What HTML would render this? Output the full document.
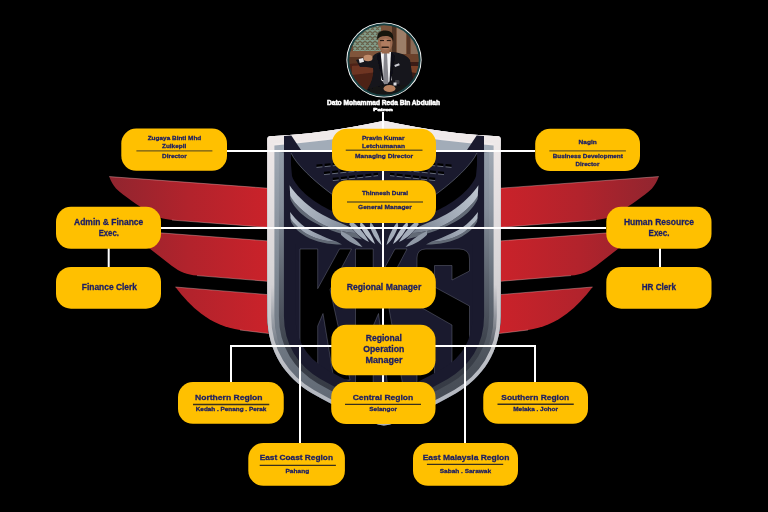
<!DOCTYPE html>
<html><head><meta charset="utf-8"><title>Organisation Chart</title>
<style>
html,body{margin:0;padding:0;background:#000;}
body{width:768px;height:512px;overflow:hidden;position:relative;font-family:"Liberation Sans",sans-serif;}
svg{position:absolute;left:0;top:0;}
text{font-family:"Liberation Sans",sans-serif;font-weight:bold;}
</style></head><body>
<svg width="768" height="512" viewBox="0 0 768 512">
<defs>
<linearGradient id="wl" x1="109" y1="0" x2="268" y2="0" gradientUnits="userSpaceOnUse">
<stop offset="0" stop-color="#90252f"/><stop offset="0.5" stop-color="#b2232c"/><stop offset="1" stop-color="#ca222a"/></linearGradient>
<linearGradient id="gb" x1="0" y1="130" x2="0" y2="430" gradientUnits="userSpaceOnUse">
<stop offset="0" stop-color="#a3acb7"/><stop offset="0.5" stop-color="#7e8792"/><stop offset="1" stop-color="#5a626d"/></linearGradient>
<linearGradient id="rim" x1="0" y1="130" x2="0" y2="430" gradientUnits="userSpaceOnUse">
<stop offset="0" stop-color="#f0eaea"/><stop offset="0.45" stop-color="#d9d6d8"/><stop offset="1" stop-color="#a9afb8"/></linearGradient>
<clipPath id="pc"><circle cx="384" cy="60" r="34.8"/></clipPath>
</defs>

<g id="wingL" fill="url(#wl)">
<path d="M109.2,176.6 L269,188.3 L269,227.4 L172,220.1 C163,218.8 157,217.5 150,213 C138,205.5 124,196 116,188.5 C113,185 111,181.5 109.2,176.6 Z"/>
<path d="M126.2,230.3 L269,241 L269,281.4 L197,275.6 C187,274.8 180,272 172,266 L126.2,230.3 Z"/>
<path d="M175.4,287 L269,294.7 L269.5,333.6 L240,330 C226,328 212,322 201,313.5 C192,306.5 183,297.5 175.4,287 Z"/>
<g fill="none" stroke="#f0c4c4" stroke-width="0.7" opacity="0.55">
<path d="M109.2,176.6 L269,188.3 M269,227.4 L172,220.1"/>
<path d="M126.2,230.3 L269,241 M269,281.4 L197,275.6"/>
<path d="M175.4,287 L269,294.7 M269.5,333.6 L240,330"/>
</g>
</g>
<use href="#wingL" transform="translate(768,0) scale(-1,1)"/>
<defs>
<clipPath id="sc"><path d="M384,120.8 Q320,134.5 270,136.3 Q267.4,136.4 267.4,139 L267.4,316 C267.4,352 286,378 312,393.3 C336,407 360,417.5 374,423.3 Q384,427.6 394,423.3 C408,417.5 432,407 456,393.3 C482,378 500.6,352 500.6,316 L500.6,139 Q500.6,136.4 498,136.3 Q448,134.5 384,120.8 Z"/></clipPath>
<clipPath id="lowc"><rect x="260" y="244" width="250" height="200"/></clipPath>
<clipPath id="midc"><rect x="260" y="151" width="250" height="300"/></clipPath>
<linearGradient id="gb" x1="0" y1="136" x2="0" y2="426" gradientUnits="userSpaceOnUse">
<stop offset="0" stop-color="#a2acb8"/><stop offset="0.25" stop-color="#8f99a5"/><stop offset="0.56" stop-color="#79818d"/><stop offset="0.8" stop-color="#5a616b"/><stop offset="1" stop-color="#555b65"/></linearGradient>
<linearGradient id="rim" x1="0" y1="120" x2="0" y2="426" gradientUnits="userSpaceOnUse">
<stop offset="0" stop-color="#f1ebeb"/><stop offset="0.255" stop-color="#eee8e8"/><stop offset="0.31" stop-color="#c2c6cc"/><stop offset="0.6" stop-color="#b0b5bd"/><stop offset="1" stop-color="#a7aeb7"/></linearGradient>
<linearGradient id="fe" x1="290" y1="185" x2="352" y2="230" gradientUnits="userSpaceOnUse">
<stop offset="0" stop-color="#bfc7d1"/><stop offset="0.6" stop-color="#9da6b3"/><stop offset="1" stop-color="#7a8391"/></linearGradient>

<linearGradient id="upg" x1="0" y1="285" x2="0" y2="350" gradientUnits="userSpaceOnUse"><stop offset="0" stop-color="#fff"/><stop offset="1" stop-color="#000"/></linearGradient>
<mask id="upm" maskUnits="userSpaceOnUse" x="250" y="100" width="270" height="350"><rect x="250" y="100" width="270" height="350" fill="url(#upg)"/></mask>
<linearGradient id="gb2" x1="0" y1="136" x2="0" y2="426" gradientUnits="userSpaceOnUse"><stop offset="0" stop-color="#98a2ae"/><stop offset="0.25" stop-color="#848d99"/><stop offset="0.5" stop-color="#5a616c"/><stop offset="0.75" stop-color="#393e48"/><stop offset="1" stop-color="#343842"/></linearGradient>
<clipPath id="lhalf"><rect x="250" y="100" width="134" height="350"/></clipPath><clipPath id="rhalf"><rect x="384" y="100" width="134" height="350"/></clipPath>
<linearGradient id="gbR" x1="0" y1="136" x2="0" y2="426" gradientUnits="userSpaceOnUse"><stop offset="0" stop-color="#a6aeb9"/><stop offset="0.25" stop-color="#8a939e"/><stop offset="0.56" stop-color="#5d6570"/><stop offset="0.8" stop-color="#4a5059"/><stop offset="1" stop-color="#454a53"/></linearGradient>
</defs>
<g id="shield" clip-path="url(#sc)">
<path d="M384,120.8 Q320,134.5 270,136.3 Q267.4,136.4 267.4,139 L267.4,316 C267.4,352 286,378 312,393.3 C336,407 360,417.5 374,423.3 Q384,427.6 394,423.3 C408,417.5 432,407 456,393.3 C482,378 500.6,352 500.6,316 L500.6,139 Q500.6,136.4 498,136.3 Q448,134.5 384,120.8 Z" fill="#1a1a2e"/>
<g id="letters" fill="#000" stroke="#8d8fa2" stroke-width="0.5" stroke-opacity="0.7">
<path d="M300,249 L317.7,249 L317.7,288.7 L339.5,249 L351.5,249 L330,289.5 L350,380 L334,380 L323,313.5 L317.7,326 L317.7,380 L300,380 Z"/>
<path d="M355.5,249 L373.2,249 L373.2,288.7 L395,249 L407,249 L385.5,289.5 L405.5,400 L389.5,400 L378.5,313.5 L373.2,326 L373.2,400 L355.5,400 Z"/>
<path d="M426,249 L459,249 Q469.5,249 469.5,259 L469.5,271 L452,280 L452,265.5 L434.5,265.5 L434.5,287 L469.5,306 L469.5,400 L417,400 L417,352 L434.5,346 L434.5,380 L452,380 L452,325 L417,305 L417,258 Q417,249 426,249 Z"/>
</g>
<path d="M384,120.8 Q320,134.5 270,136.3 Q267.4,136.4 267.4,139 L267.4,316 C267.4,352 286,378 312,393.3 C336,407 360,417.5 374,423.3 Q384,427.6 394,423.3 C408,417.5 432,407 456,393.3 C482,378 500.6,352 500.6,316 L500.6,139 Q500.6,136.4 498,136.3 Q448,134.5 384,120.8 Z" fill="none" stroke="#1a1a2e" stroke-width="56" clip-path="url(#lowc)"/>
<g id="embL">
<path d="M291,153 C294,159 298.5,164.5 303.8,170 C311,177.5 320,185.5 332.6,194.7 L340,199 L352,204 L352,216.5 C344,215 338,213.5 332.6,211.2 C322,206.5 314,201 309,197 C303,192 299,188 297.3,185.3 C295,182 293,179.5 292,176 L291,165 Z" fill="#000"/>
<path d="M290,192 L290.3,199 C293,205 298,211 303,215 C312,222.5 330,232 362,239.5 L356,233 C350,232.8 345,232 340,230.8 C335,229.5 330,227.5 326,226 C318,222.5 308,215.5 300.8,208.8 C295,203 291.5,199 290,192 Z" fill="#626a76"/>
<path d="M290.3,216 L290.8,221.5 C294,228 300,233 306,236.5 C316,242 328,244.5 342,244.5 L337.5,242 C330,241.5 322,240 315.7,237.9 C309,235.5 304,232.5 301.4,230 C296,225.5 292,221 290.3,216 Z" fill="#626a76"/>
<path d="M289.6,185.3 C295,193.5 305,204 317,211.5 C324,215.8 330,218.8 337,221.6 C343,224 348,226.5 351.4,227.9 L356,233 C350,232.8 345,232 340,230.8 C335,229.5 330,227.5 326,226 C318,222.5 308,215.5 300.8,208.8 C295,203 291.5,199 290.2,195.3 Z" fill="url(#fe)"/>
<path d="M290,212.1 C293,216 297,220.5 301.4,224.3 C306,228 311,231 315.7,232.9 C322,236 330,239.3 337.5,242.1 C330,241.5 322,240 315.7,237.9 C309,235.5 304,232.5 301.4,230 C296,225.5 292,221.5 290.7,218.6 Z" fill="url(#fe)"/>
<path d="M350,220 C357,225 364.5,233 369,242 C361,238.5 353.5,231 349.5,224.5 Z" fill="#a3acb9"/>
<path d="M360.5,221.5 C366.5,227 372,235 375,244 C368,239.5 362.5,231 360,225.5 Z" fill="#b4bcc8"/>
<path d="M370.5,222 C375.5,228 379.5,236 381.5,245 C375.5,240 371.5,232 369.8,226 Z" fill="#a3acb9"/>
<path d="M341,231 C349,234.5 357,240 362.5,247 C353,244.5 345.5,239.5 341,234.8 Z" fill="#8f98a5"/>
<g stroke="#000" stroke-width="2.4" stroke-dasharray="6 2.2" fill="none">
<path d="M316.5,165.8 L378,159.8"/>
<path d="M324,173 L378,167.2"/>
<path d="M332.8,179 L378,174"/>
</g>
<g stroke="#9aa3b0" stroke-width="0.9" stroke-dasharray="6 2.2" fill="none" opacity="0.65">
<path d="M316.5,167.4 L378,161.4"/>
<path d="M324,174.6 L378,168.8"/>
<path d="M332.8,180.6 L378,175.6"/>
</g>
<path d="M291,153 C294,159 298.5,164.5 303.8,170 C311,177.5 320,185.5 332.6,194.7 L340,199" fill="none" stroke="#8a92a0" stroke-width="0.6" opacity="0.8"/>
</g>
<use href="#embL" transform="translate(768,0) scale(-1,1)"/>
<path d="M384,120.8 Q320,134.5 270,136.3 Q267.4,136.4 267.4,139 L267.4,316 C267.4,352 286,378 312,393.3 C336,407 360,417.5 374,423.3 Q384,427.6 394,423.3 C408,417.5 432,407 456,393.3 C482,378 500.6,352 500.6,316 L500.6,139 Q500.6,136.4 498,136.3 Q448,134.5 384,120.8 Z" fill="none" stroke="url(#gb2)" stroke-width="33" clip-path="url(#midc)"/>
<g clip-path="url(#midc)"><path d="M384,120.8 Q320,134.5 270,136.3 Q267.4,136.4 267.4,139 L267.4,316 C267.4,352 286,378 312,393.3 C336,407 360,417.5 374,423.3 Q384,427.6 394,423.3 C408,417.5 432,407 456,393.3 C482,378 500.6,352 500.6,316 L500.6,139 Q500.6,136.4 498,136.3 Q448,134.5 384,120.8 Z" fill="none" stroke="url(#gb)" stroke-width="23" clip-path="url(#lhalf)"/><path d="M384,120.8 Q320,134.5 270,136.3 Q267.4,136.4 267.4,139 L267.4,316 C267.4,352 286,378 312,393.3 C336,407 360,417.5 374,423.3 Q384,427.6 394,423.3 C408,417.5 432,407 456,393.3 C482,378 500.6,352 500.6,316 L500.6,139 Q500.6,136.4 498,136.3 Q448,134.5 384,120.8 Z" fill="none" stroke="url(#gbR)" stroke-width="23" clip-path="url(#rhalf)"/></g>
<path d="M267,130 L384,118 L501,130 L501,151.3 L267,151.3 Z" fill="#a2acb8"/>
<path d="M384,120.8 Q320,134.5 270,136.3 L267.4,139 L267.4,146.2 L274.4,145.4 Q330,141 384,131.8 Q438,141 493.6,145.4 L500.6,146.2 L500.6,139 L498,136.3 Q448,134.5 384,120.8 Z" fill="#f1ebeb"/>
<path d="M384,120.8 Q320,134.5 270,136.3 Q267.4,136.4 267.4,139 L267.4,316 C267.4,352 286,378 312,393.3 C336,407 360,417.5 374,423.3 Q384,427.6 394,423.3 C408,417.5 432,407 456,393.3 C482,378 500.6,352 500.6,316 L500.6,139 Q500.6,136.4 498,136.3 Q448,134.5 384,120.8 Z" fill="none" stroke="url(#rim)" stroke-width="7.5"/>
<path d="M384,120.8 Q320,134.5 270,136.3 Q267.4,136.4 267.4,139 L267.4,316 C267.4,352 286,378 312,393.3 C336,407 360,417.5 374,423.3 Q384,427.6 394,423.3 C408,417.5 432,407 456,393.3 C482,378 500.6,352 500.6,316 L500.6,139 Q500.6,136.4 498,136.3 Q448,134.5 384,120.8 Z" fill="none" stroke="url(#rim)" stroke-width="14" mask="url(#upm)"/>
<path d="M284,135.9 L291.3,135.6 L302,151.5 L284,151.5 Z" fill="#1a1a2e"/>
<path d="M484,135.9 L476.7,135.6 L466,151.5 L484,151.5 Z" fill="#1a1a2e"/>
</g>
<g stroke="#fff" stroke-width="2" fill="none">
<line x1="383" y1="112" x2="383" y2="384"/>
<line x1="227" y1="151" x2="535" y2="151"/>
<line x1="161" y1="228" x2="606" y2="228"/>
<line x1="230" y1="346" x2="536" y2="346"/>
<line x1="231" y1="346" x2="231" y2="382"/>
<line x1="300" y1="346" x2="300" y2="444"/>
<line x1="465" y1="346" x2="465" y2="444"/>
<line x1="535" y1="346" x2="535" y2="382"/>
<line x1="108.7" y1="248" x2="108.7" y2="268"/>
<line x1="660" y1="248" x2="660" y2="268"/>
</g>
<g fill="#FFC000">
<rect x="121.3" y="128.5" width="105.70" height="42.30" rx="15" ry="15"/>
<rect x="332" y="128.7" width="104.00" height="42.20" rx="15" ry="15"/>
<rect x="535.2" y="128.8" width="104.80" height="42.30" rx="15" ry="15"/>
<rect x="332" y="180.3" width="104.00" height="42.70" rx="15" ry="15"/>
<rect x="56" y="206.8" width="105.00" height="42.00" rx="15" ry="15"/>
<rect x="606.3" y="206.8" width="105.20" height="41.90" rx="15" ry="15"/>
<rect x="56" y="266.9" width="105.00" height="41.80" rx="15" ry="15"/>
<rect x="606.3" y="266.9" width="105.20" height="41.80" rx="15" ry="15"/>
<rect x="331" y="266.9" width="104.80" height="41.70" rx="15" ry="15"/>
<rect x="331.3" y="324.8" width="104.20" height="50.40" rx="15" ry="15"/>
<rect x="178" y="382.1" width="105.75" height="41.70" rx="15" ry="15"/>
<rect x="331.2" y="382" width="104.30" height="42.10" rx="15" ry="15"/>
<rect x="483.25" y="382.1" width="104.75" height="41.70" rx="15" ry="15"/>
<rect x="248.3" y="443" width="96.60" height="42.70" rx="15" ry="15"/>
<rect x="413" y="443" width="105.00" height="42.80" rx="15" ry="15"/>
</g>
<g stroke-width="1.3">
<line x1="136.4" y1="150.9" x2="212.4" y2="150.9" stroke="#6e5a1c"/>
<line x1="345.75" y1="150.25" x2="422.5" y2="150.25" stroke="#6e5a1c"/>
<line x1="549.3" y1="150.8" x2="625.9" y2="150.8" stroke="#6e5a1c"/>
<line x1="347" y1="202" x2="423" y2="202" stroke="#6e5a1c"/>
<line x1="193" y1="404.5" x2="269.25" y2="404.5" stroke="#3a301c"/>
<line x1="345" y1="404.3" x2="421" y2="404.3" stroke="#3a301c"/>
<line x1="497.5" y1="404.25" x2="573.75" y2="404.25" stroke="#3a301c"/>
<line x1="259.7" y1="465.3" x2="335.9" y2="465.3" stroke="#3a301c"/>
<line x1="426.9" y1="464.3" x2="503.2" y2="464.3" stroke="#3a301c"/>
</g>
<g fill="#1b1d64" stroke="#1b1d64" stroke-width="0.28" opacity="0.999">
<text x="147.7" y="139.9" font-size="6.0" textLength="53.60" lengthAdjust="spacingAndGlyphs">Zugaya Binti Mhd</text>
<text x="162" y="147.9" font-size="6.0" textLength="24.20" lengthAdjust="spacingAndGlyphs">Zulkepli</text>
<text x="162" y="158" font-size="6.0" textLength="24.70" lengthAdjust="spacingAndGlyphs">Director</text>
<text x="362" y="139.5" font-size="6.0" textLength="42.50" lengthAdjust="spacingAndGlyphs">Pravin Kumar</text>
<text x="362" y="147.5" font-size="6.0" textLength="43.00" lengthAdjust="spacingAndGlyphs">Letchumanan</text>
<text x="355" y="157.75" font-size="6.0" textLength="58.00" lengthAdjust="spacingAndGlyphs">Managing Director</text>
<text x="578.6" y="143.9" font-size="6.0" textLength="18.20" lengthAdjust="spacingAndGlyphs">Nagin</text>
<text x="552.7" y="158.25" font-size="6.0" textLength="70.20" lengthAdjust="spacingAndGlyphs">Business Development</text>
<text x="575.6" y="165.8" font-size="6.0" textLength="23.70" lengthAdjust="spacingAndGlyphs">Director</text>
<text x="362" y="195.25" font-size="6.0" textLength="46.00" lengthAdjust="spacingAndGlyphs">Thinnesh Durai</text>
<text x="358" y="209" font-size="6.0" textLength="53.75" lengthAdjust="spacingAndGlyphs">General Manager</text>
<text x="74.06" y="224.9" font-size="8.4" textLength="69.24" lengthAdjust="spacingAndGlyphs">Admin &amp; Finance</text>
<text x="98.7" y="235.6" font-size="8.4" textLength="20.15" lengthAdjust="spacingAndGlyphs">Exec.</text>
<text x="623.9" y="224.7" font-size="8.4" textLength="70.10" lengthAdjust="spacingAndGlyphs">Human Resource</text>
<text x="648.6" y="235.5" font-size="8.4" textLength="20.90" lengthAdjust="spacingAndGlyphs">Exec.</text>
<text x="81.75" y="290" font-size="8.4" textLength="55.25" lengthAdjust="spacingAndGlyphs">Finance Clerk</text>
<text x="641.75" y="290" font-size="8.4" textLength="34.25" lengthAdjust="spacingAndGlyphs">HR Clerk</text>
<text x="346.75" y="290" font-size="8.4" textLength="74.50" lengthAdjust="spacingAndGlyphs">Regional Manager</text>
<text x="365.75" y="341" font-size="8.4" textLength="36.25" lengthAdjust="spacingAndGlyphs">Regional</text>
<text x="363.25" y="351.75" font-size="8.4" textLength="41.00" lengthAdjust="spacingAndGlyphs">Operation</text>
<text x="365.5" y="362.5" font-size="8.4" textLength="37.00" lengthAdjust="spacingAndGlyphs">Manager</text>
<text x="195" y="400" font-size="8.0" textLength="67.50" lengthAdjust="spacingAndGlyphs">Northern Region</text>
<text x="195.75" y="411.1" font-size="5.7" textLength="70.50" lengthAdjust="spacingAndGlyphs">Kedah . Penang . Perak</text>
<text x="352.7" y="400" font-size="8.0" textLength="60.60" lengthAdjust="spacingAndGlyphs">Central Region</text>
<text x="369.3" y="411.3" font-size="6.2" textLength="27.70" lengthAdjust="spacingAndGlyphs">Selangor</text>
<text x="501.25" y="400" font-size="8.0" textLength="68.00" lengthAdjust="spacingAndGlyphs">Southern Region</text>
<text x="513.25" y="411" font-size="6.2" textLength="44.75" lengthAdjust="spacingAndGlyphs">Melaka . Johor</text>
<text x="259.7" y="460.1" font-size="8.0" textLength="73.30" lengthAdjust="spacingAndGlyphs">East Coast Region</text>
<text x="285.5" y="472.7" font-size="6.2" textLength="23.70" lengthAdjust="spacingAndGlyphs">Pahang</text>
<text x="422.7" y="460.2" font-size="7.8" textLength="86.80" lengthAdjust="spacingAndGlyphs">East Malaysia Region</text>
<text x="439.7" y="472.7" font-size="6.2" textLength="51.40" lengthAdjust="spacingAndGlyphs">Sabah . Sarawak</text>
</g>
<g id="photo">
<defs>
<filter id="pb" x="-10%" y="-10%" width="120%" height="120%"><feGaussianBlur stdDeviation="0.7"/></filter>
<linearGradient id="wood" x1="0" y1="0" x2="1" y2="0"><stop offset="0" stop-color="#6a4631"/><stop offset="0.5" stop-color="#7d563c"/><stop offset="1" stop-color="#6e4a36"/></linearGradient>
<pattern id="orn" x="0" y="0" width="5" height="5" patternUnits="userSpaceOnUse"><rect width="5" height="5" fill="#86a08e"/><path d="M0,1 L2.5,3.5 L5,1 M1,5 L2.5,3.5 L4,5" stroke="#5e4a35" stroke-width="1.3" fill="none"/></pattern>
</defs>
<circle cx="384" cy="60" r="37.6" fill="#ffffff"/>
<circle cx="384" cy="60" r="36.7" fill="#173f41"/>
<g clip-path="url(#pc)">
<g filter="url(#pb)">
<rect x="344" y="20" width="80" height="80" fill="url(#wood)"/>
<!-- green ornament panel -->
<rect x="353" y="26" width="28" height="25" fill="url(#orn)"/>
<rect x="353" y="26" width="28" height="25" fill="#7d9a86" opacity="0.3"/>
<!-- right wooden panels -->
<rect x="392" y="24" width="4" height="30" fill="#4e3022"/>
<rect x="397" y="26" width="9" height="28" fill="#9c7e67"/>
<rect x="407" y="30" width="3" height="26" fill="#553626"/>
<rect x="411" y="34" width="9" height="20" fill="#8a6c58"/>
<!-- wall band -->
<rect x="344" y="51" width="40" height="6" fill="#80543a"/>
<rect x="344" y="57" width="40" height="7" fill="#5a3524"/>
<rect x="400" y="54" width="24" height="10" fill="#6b3f2a"/>
<!-- sofa -->
<path d="M344,64 L380,62 L380,100 L344,100 Z" fill="#4d2319"/>
<path d="M352,66 L378,64 L378,72 L352,75 Z" fill="#6e3523"/>
<path d="M404,62 L424,62 L424,100 L404,100 Z" fill="#3a1f18"/>
<path d="M410,66 L422,66 L422,74 L410,72 Z" fill="#7a4028"/>
<!-- suit body -->
<path d="M372,58 C374,53 379,52 384,52 L392,52 C400,52.5 407,55 410,60 L413,80 L415,100 L362,100 L368,88 C372,82 374,74 373,68 L360,66 L357,61 Z" fill="#14141a"/>
<!-- sleeve to raised hand -->
<path d="M356,60 L366,57 L374,58 L375,66 L360,67 Z" fill="#16161c"/>
<!-- shirt -->
<path d="M380.5,52 L391,52 L392,80 L386,84 L381,80 Z" fill="#f2f2f4"/>
<!-- tie -->
<path d="M384,53 L387,53 L388.5,82 L386,87.5 L383,82 Z" fill="#85858c"/>
<!-- lapels -->
<path d="M380.5,52 L377,56 L382,80 L383.5,80 Z" fill="#0e0e12"/>
<path d="M391,52 L395,56 L391,82 L389.5,82 Z" fill="#0e0e12"/>
<!-- neck + face -->
<rect x="381.5" y="47" width="8" height="6.5" fill="#98684c"/>
<ellipse cx="385.2" cy="42.8" rx="7.4" ry="9.2" fill="#9a6a50"/><ellipse cx="385.6" cy="44" rx="4.6" ry="5.6" fill="#b07c60"/>
<!-- hair -->
<path d="M377.3,40 C376.5,33 380,30.6 385.5,30.6 C391.5,30.6 394,34 393.2,41 C392,37.5 390,36 385.5,36 C381,36 378.5,37.5 377.3,40 Z" fill="#15120f"/>
<!-- brows/eyes/moustache -->
<rect x="380" y="40" width="4" height="1.1" fill="#2a1c14"/>
<rect x="386.8" y="40" width="4" height="1.1" fill="#2a1c14"/>
<rect x="381.5" y="46.4" width="7.5" height="1.6" rx="0.8" fill="#2a1a12"/>
<!-- raised hand & cuff -->
<ellipse cx="368" cy="58" rx="4.6" ry="3.3" fill="#c08c6a"/>
<rect x="359" y="58.5" width="4.5" height="4" fill="#e8e8ea" transform="rotate(-15 361 60)"/>
<!-- trousers -->
<path d="M366,90 L386,84 L408,86 L414,100 L360,100 Z" fill="#121216"/>
<!-- lap hand & watch -->
<ellipse cx="389.5" cy="88.5" rx="6" ry="3.6" fill="#b8825f"/>
<rect x="395" y="80" width="4.5" height="4" rx="1" fill="#3a3a40"/>
<rect x="393.5" y="82.5" width="3" height="3" fill="#dcdce0"/>
<!-- pocket pin -->
<rect x="394.5" y="64" width="5" height="2.2" fill="#c9c9cf" transform="rotate(-20 397 65)"/>
</g>
</g>
</g>

<g fill="#fff" stroke="#fff" stroke-width="0.55" stroke-linejoin="round" opacity="0.999">
<text x="327" y="105" font-size="6.6" textLength="113" lengthAdjust="spacingAndGlyphs">Dato Mohammad Reda Bin Abdullah</text>
<text x="373.3" y="111.3" font-size="4.4" textLength="19.5" lengthAdjust="spacingAndGlyphs">Patron</text>
</g>
</svg></body></html>
